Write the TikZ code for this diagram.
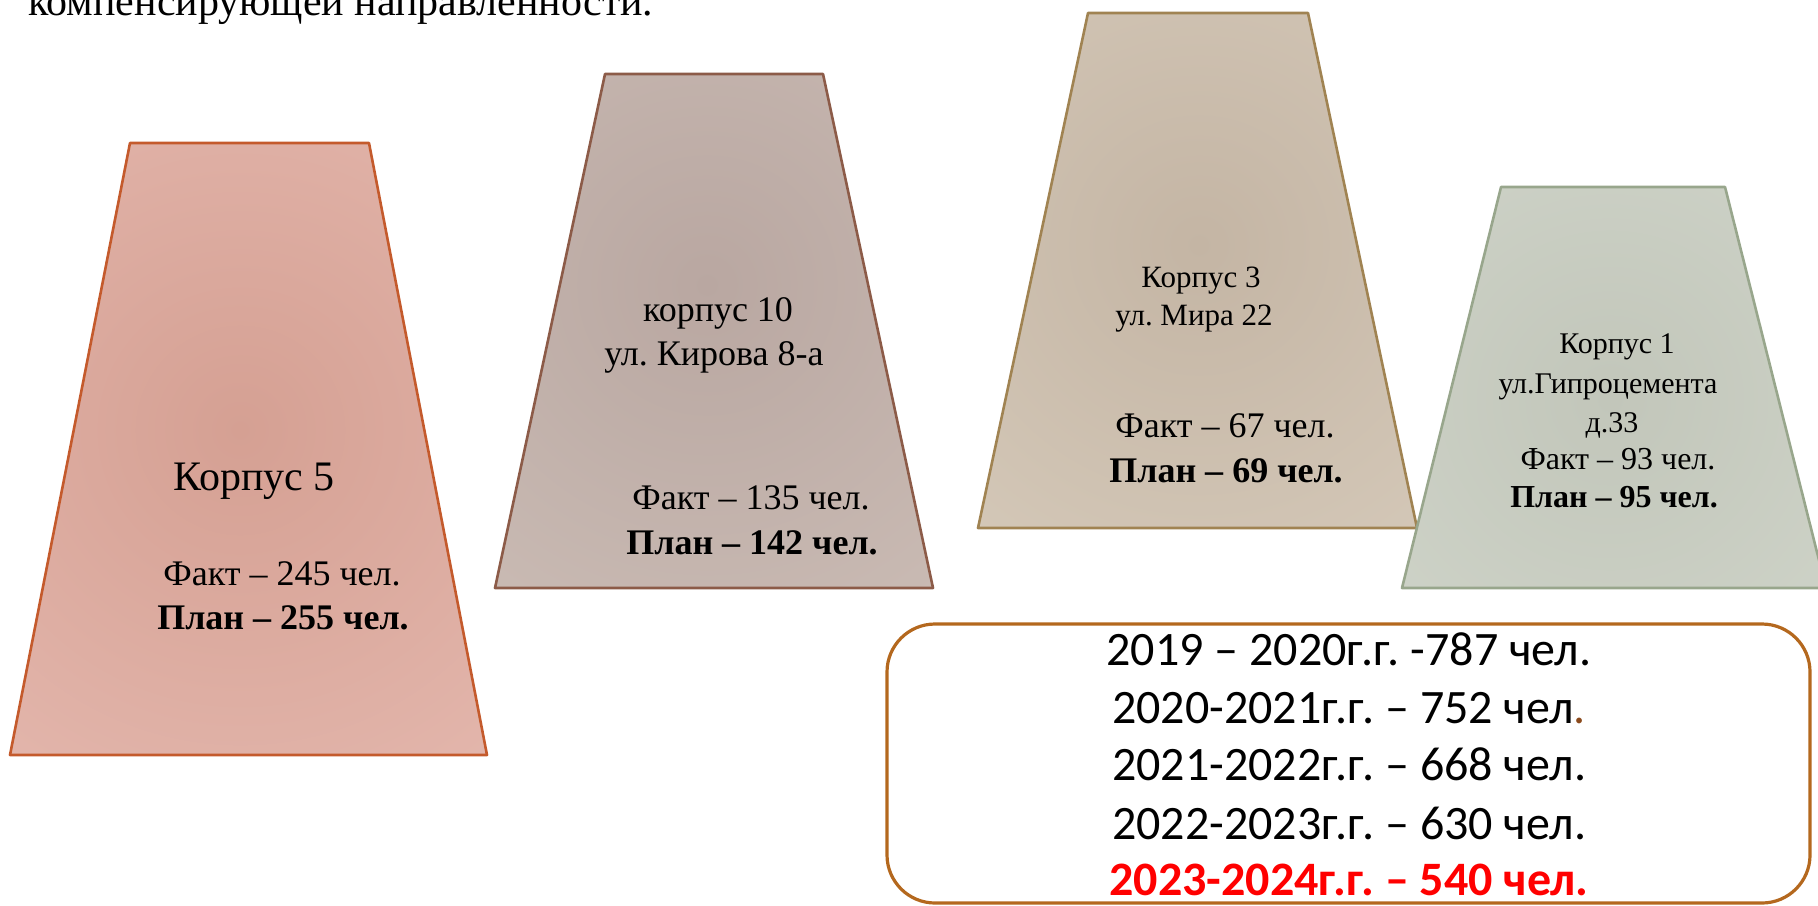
\documentclass[tikz,border=0pt]{standalone}
\usepackage{fontspec}
\setmainfont{Liberation Serif}
\newfontfamily\boxfont{Carlito}
\frenchspacing
\definecolor{bA}{HTML}{C45A2C}
\definecolor{fAo}{HTML}{E3B6AC}
\definecolor{fAi}{HTML}{D5A093}
\definecolor{bB}{HTML}{8C5B48}
\definecolor{fBo}{HTML}{C9BAB3}
\definecolor{fBi}{HTML}{B9A7A1}
\definecolor{bC}{HTML}{A08352}
\definecolor{fCo}{HTML}{D4C8B8}
\definecolor{fCi}{HTML}{C4B5A4}
\definecolor{bD}{HTML}{98A68C}
\definecolor{fDo}{HTML}{CFD4C9}
\definecolor{fDi}{HTML}{C2C6BA}
\definecolor{boxline}{HTML}{B4681E}
\definecolor{dotbrown}{HTML}{8B4A1C}
\begin{document}
\begin{tikzpicture}[x=0.5pt,y=-0.5pt,
  lbl/.style={anchor=base, inner sep=0pt},
  edge/.style={line width=1.3pt, line join=round}]
\useasboundingbox (0,0) rectangle (1818,905);
% title fragment
\node[lbl, anchor=base west] (title) at (28,15) {\fontsize{21pt}{25pt}\selectfont компенсирующей направленности.};
% Korpus 5
\fill[fAo] (130,143) -- (369,143) -- (487,755) -- (10,755) -- cycle;
\begin{scope}
\clip (130,143) -- (369,143) -- (487,755) -- (10,755) -- cycle;
\shade[inner color=fAi, outer color=fAo] (240,430) circle (210pt);
\end{scope}
\draw[edge, bA] (130,143) -- (369,143) -- (487,755) -- (10,755) -- cycle;
% Korpus 10
\fill[fBo] (605,74) -- (823,74) -- (933,588) -- (495,588) -- cycle;
\begin{scope}
\clip (605,74) -- (823,74) -- (933,588) -- (495,588) -- cycle;
\shade[inner color=fBi, outer color=fBo] (707,285) circle (190pt);
\end{scope}
\draw[edge, bB] (605,74) -- (823,74) -- (933,588) -- (495,588) -- cycle;
% Korpus 3
\fill[fCo] (1088,13) -- (1308,13) -- (1417,528) -- (978,528) -- cycle;
\begin{scope}
\clip (1088,13) -- (1308,13) -- (1417,528) -- (978,528) -- cycle;
\shade[inner color=fCi, outer color=fCo] (1199,245) circle (190pt);
\end{scope}
\draw[edge, bC] (1088,13) -- (1308,13) -- (1417,528) -- (978,528) -- cycle;
% Korpus 1
\fill[fDo] (1501,187) -- (1725,187) -- (1826,588) -- (1402,588) -- cycle;
\begin{scope}
\clip (1501,187) -- (1725,187) -- (1826,588) -- (1402,588) -- cycle;
\shade[inner color=fDi, outer color=fDo] (1610,400) circle (170pt);
\end{scope}
\draw[edge, bD] (1501,187) -- (1725,187) -- (1826,588) -- (1402,588) -- cycle;
% texts Korpus 5
\node[lbl] (k5a) at (254,490) {\fontsize{21pt}{25pt}\selectfont Корпус 5};
\node[lbl] (k5b) at (282,585) {\fontsize{18pt}{22pt}\selectfont Факт – 245 чел.};
\node[lbl] (k5c) at (283,629) {\fontsize{18pt}{22pt}\selectfont\bfseries План – 255 чел.};
% texts Korpus 10
\node[lbl] (k10a) at (718,321) {\fontsize{18pt}{22pt}\selectfont корпус 10};
\node[lbl] (k10b) at (714,365) {\fontsize{18pt}{22pt}\selectfont ул. Кирова 8-а};
\node[lbl] (k10c) at (751,509) {\fontsize{18pt}{22pt}\selectfont Факт – 135 чел.};
\node[lbl] (k10d) at (752,554) {\fontsize{18pt}{22pt}\selectfont\bfseries План – 142 чел.};
% texts Korpus 3
\node[lbl] (k3a) at (1201,287) {\fontsize{15.5pt}{19pt}\selectfont Корпус 3};
\node[lbl] (k3b) at (1194,325) {\fontsize{15.5pt}{19pt}\selectfont ул. Мира 22};
\node[lbl] (k3c) at (1225,437) {\fontsize{18pt}{22pt}\selectfont Факт – 67 чел.};
\node[lbl] (k3d) at (1226,482) {\fontsize{18pt}{22pt}\selectfont\bfseries План – 69 чел.};
% texts Korpus 1
\node[lbl] (k1a) at (1617,353) {\fontsize{15pt}{18pt}\selectfont Корпус 1};
\node[lbl] (k1b) at (1608,393) {\fontsize{15pt}{18pt}\selectfont ул.Гипроцемента};
\node[lbl] (k1c) at (1612,432) {\fontsize{15pt}{18pt}\selectfont д.33};
\node[lbl] (k1d) at (1618,469) {\fontsize{16pt}{19pt}\selectfont Факт – 93 чел.};
\node[lbl] (k1e) at (1614,507) {\fontsize{16pt}{19pt}\selectfont\bfseries План – 95 чел.};
% summary box
\draw[line width=1.6pt, boxline, rounded corners=24pt] (887,624) rectangle (1810,903);
\node[lbl] (y1) at (1349,665) {\boxfont\fontsize{24pt}{29pt}\selectfont 2019 – 2020г.г. -787 чел.};
\node[lbl] (y2) at (1349,723) {\boxfont\fontsize{24pt}{29pt}\selectfont 2020-2021г.г. – 752 чел\textcolor{dotbrown}{.}};
\node[lbl] (y3) at (1349,780) {\boxfont\fontsize{24pt}{29pt}\selectfont 2021-2022г.г. – 668 чел.};
\node[lbl] (y4) at (1349,839) {\boxfont\fontsize{24pt}{29pt}\selectfont 2022-2023г.г. – 630 чел.};
\node[lbl, text=red] (y5) at (1349,895) {\boxfont\fontsize{24pt}{29pt}\selectfont\bfseries 2023-2024г.г. – 540 чел.};
\end{tikzpicture}
\end{document}
